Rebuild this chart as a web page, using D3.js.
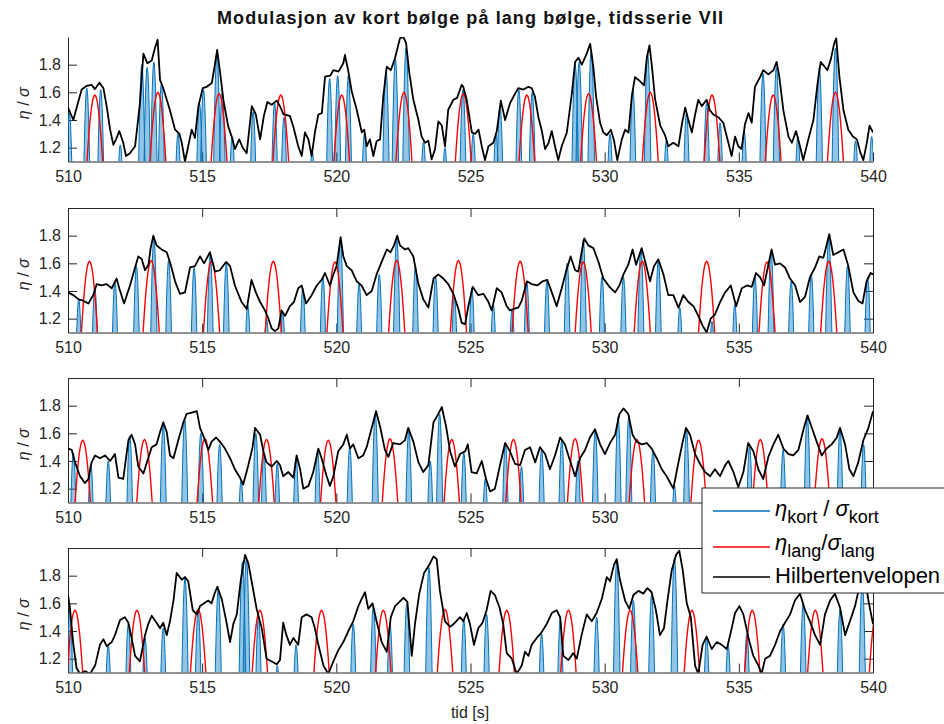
<!DOCTYPE html>
<html>
<head>
<meta charset="utf-8">
<script src="https://cdn.jsdelivr.net/npm/d3@7"></script>
<style>
  body { margin: 0; background: #fff; }
  svg { display: block; }
  text { font-family: "Liberation Sans", Arial, Helvetica, sans-serif; }
</style>
</head>
<body>
<svg id="chart" width="944" height="724"></svg>
<script>
// ---- axes ----
const xTicks = [510, 515, 520, 525, 530, 535, 540];
const yTicks = [1.2, 1.4, 1.6, 1.8];
const xDomain = [510, 540];
const yDomain = [1.1, 2.0];

// ---- Hilbert envelope, vertices [t (s), eta/sigma] for each of the four series ----
const envelope1 = [[510.0,1.49],[510.2,1.40],[510.38,1.53],[510.51,1.62],[510.7,1.647],[510.88,1.654],[511.0,1.623],[511.17,1.67],[511.32,1.63],[511.44,1.50],[511.57,1.33],[511.69,1.22],[511.79,1.26],[511.91,1.32],[512.06,1.235],[512.16,1.14],[512.31,1.16],[512.5,1.21],[512.68,1.52],[512.81,1.88],[512.96,1.81],[513.12,1.83],[513.24,1.92],[513.34,1.98],[513.43,1.69],[513.55,1.63],[513.8,1.47],[513.99,1.33],[514.15,1.30],[514.24,1.235],[514.36,1.10],[514.48,1.21],[514.61,1.33],[514.73,1.27],[514.86,1.50],[515.02,1.63],[515.17,1.64],[515.36,1.667],[515.44,1.76],[515.56,1.906],[515.67,1.74],[515.79,1.546],[515.97,1.354],[516.1,1.28],[516.22,1.19],[516.38,1.26],[516.51,1.20],[516.66,1.16],[516.85,1.50],[517.0,1.44],[517.16,1.26],[517.3,1.43],[517.43,1.53],[517.59,1.51],[517.78,1.54],[517.9,1.50],[518.03,1.44],[518.27,1.43],[518.40,1.35],[518.58,1.21],[518.71,1.14],[518.83,1.31],[518.96,1.26],[519.08,1.14],[519.21,1.32],[519.33,1.44],[519.46,1.45],[519.58,1.714],[519.77,1.72],[519.89,1.76],[520.08,1.75],[520.26,1.81],[520.32,1.87],[520.45,1.75],[520.57,1.61],[520.76,1.474],[520.95,1.31],[521.04,1.33],[521.13,1.21],[521.25,1.26],[521.38,1.14],[521.5,1.246],[521.63,1.26],[521.75,1.57],[521.88,1.786],[522.03,1.76],[522.19,1.85],[522.37,1.99],[522.5,2.0],[522.6,1.955],[522.72,1.74],[522.87,1.546],[523.06,1.40],[523.18,1.28],[523.31,1.235],[523.43,1.25],[523.55,1.115],[523.68,1.19],[523.8,1.39],[523.93,1.36],[524.05,1.21],[524.17,1.474],[524.36,1.546],[524.5,1.56],[524.67,1.654],[524.73,1.64],[524.86,1.546],[525.05,1.31],[525.17,1.30],[525.3,1.33],[525.42,1.21],[525.54,1.11],[525.67,1.21],[525.85,1.235],[525.98,1.32],[526.13,1.54],[526.29,1.40],[526.47,1.52],[526.66,1.59],[526.78,1.63],[526.97,1.62],[527.16,1.64],[527.28,1.63],[527.4,1.57],[527.53,1.42],[527.66,1.32],[527.78,1.19],[527.9,1.23],[528.03,1.32],[528.15,1.21],[528.27,1.11],[528.4,1.21],[528.59,1.31],[528.77,1.58],[528.9,1.82],[529.02,1.85],[529.15,1.80],[529.33,1.88],[529.46,1.95],[529.58,1.78],[529.68,1.57],[529.83,1.38],[529.95,1.31],[530.08,1.29],[530.23,1.33],[530.35,1.25],[530.47,1.11],[530.64,1.26],[530.76,1.33],[530.89,1.31],[531.01,1.57],[531.13,1.71],[531.32,1.68],[531.47,1.65],[531.57,1.85],[531.67,1.94],[531.76,1.79],[531.88,1.55],[532.07,1.36],[532.25,1.29],[532.37,1.21],[532.56,1.235],[532.75,1.21],[532.87,1.36],[533.0,1.49],[533.12,1.40],[533.25,1.31],[533.37,1.44],[533.49,1.546],[533.62,1.50],[533.8,1.546],[533.92,1.47],[534.05,1.44],[534.24,1.42],[534.42,1.38],[534.61,1.235],[534.73,1.14],[534.86,1.28],[534.98,1.21],[535.1,1.19],[535.23,1.37],[535.36,1.45],[535.48,1.38],[535.6,1.64],[535.79,1.71],[535.91,1.76],[536.1,1.73],[536.29,1.76],[536.41,1.82],[536.51,1.71],[536.66,1.47],[536.85,1.28],[536.98,1.235],[537.13,1.32],[537.28,1.21],[537.4,1.11],[537.59,1.26],[537.78,1.40],[537.93,1.66],[538.05,1.82],[538.18,1.79],[538.3,1.76],[538.43,1.84],[538.55,1.95],[538.63,1.99],[538.75,1.71],[538.9,1.47],[539.08,1.33],[539.25,1.28],[539.4,1.26],[539.52,1.17],[539.64,1.11],[539.77,1.235],[539.87,1.36],[540.0,1.31]];

const envelope2 = [[510.0,1.39],[510.2,1.37],[510.39,1.34],[510.57,1.33],[510.76,1.31],[510.94,1.37],[511.07,1.45],[511.25,1.44],[511.44,1.45],[511.63,1.42],[511.81,1.49],[511.91,1.42],[512.09,1.31],[512.31,1.44],[512.5,1.57],[512.62,1.65],[512.75,1.63],[512.87,1.55],[513.0,1.59],[513.08,1.71],[513.18,1.80],[513.3,1.73],[513.49,1.70],[513.68,1.68],[513.83,1.59],[513.99,1.47],[514.17,1.38],[514.36,1.39],[514.55,1.57],[514.73,1.58],[514.92,1.65],[515.07,1.60],[515.29,1.68],[515.48,1.54],[515.66,1.55],[515.89,1.61],[516.04,1.58],[516.22,1.44],[516.47,1.32],[516.66,1.27],[516.84,1.48],[517.0,1.39],[517.16,1.32],[517.34,1.26],[517.47,1.20],[517.59,1.13],[517.71,1.11],[517.84,1.13],[517.96,1.26],[518.09,1.22],[518.27,1.29],[518.42,1.32],[518.58,1.42],[518.71,1.44],[518.87,1.31],[519.08,1.37],[519.27,1.44],[519.45,1.48],[519.58,1.53],[519.76,1.44],[519.89,1.52],[520.01,1.58],[520.16,1.79],[520.26,1.65],[520.39,1.58],[520.57,1.55],[520.76,1.47],[520.94,1.44],[521.13,1.37],[521.32,1.40],[521.5,1.52],[521.69,1.61],[521.88,1.70],[522.02,1.68],[522.15,1.73],[522.27,1.80],[522.37,1.73],[522.56,1.70],[522.68,1.71],[522.87,1.65],[523.06,1.45],[523.24,1.34],[523.43,1.28],[523.62,1.49],[523.8,1.52],[523.99,1.49],[524.17,1.45],[524.36,1.38],[524.55,1.27],[524.67,1.17],[524.8,1.16],[524.92,1.29],[525.08,1.43],[525.29,1.37],[525.48,1.38],[525.67,1.32],[525.79,1.26],[525.98,1.42],[526.16,1.39],[526.35,1.29],[526.47,1.26],[526.6,1.27],[526.78,1.28],[526.91,1.33],[527.1,1.47],[527.28,1.45],[527.49,1.44],[527.69,1.47],[527.86,1.48],[528.03,1.39],[528.21,1.29],[528.4,1.42],[528.56,1.54],[528.73,1.65],[528.9,1.55],[529.02,1.54],[529.14,1.68],[529.24,1.78],[529.39,1.73],[529.58,1.71],[529.77,1.61],[529.95,1.49],[530.18,1.43],[530.39,1.39],[530.55,1.44],[530.7,1.52],[530.88,1.59],[531.04,1.70],[531.17,1.59],[531.38,1.71],[531.54,1.59],[531.69,1.47],[531.84,1.58],[532.0,1.63],[532.19,1.52],[532.37,1.37],[532.56,1.37],[532.75,1.28],[532.93,1.37],[533.12,1.32],[533.31,1.29],[533.49,1.22],[533.65,1.15],[533.8,1.10],[533.95,1.20],[534.11,1.23],[534.3,1.32],[534.49,1.39],[534.7,1.44],[534.9,1.29],[535.11,1.42],[535.3,1.44],[535.48,1.43],[535.64,1.53],[535.79,1.50],[535.94,1.44],[536.1,1.59],[536.22,1.70],[536.35,1.59],[536.54,1.60],[536.72,1.57],[536.91,1.49],[537.1,1.44],[537.28,1.32],[537.47,1.36],[537.65,1.50],[537.84,1.57],[538.0,1.65],[538.15,1.64],[538.27,1.73],[538.37,1.81],[538.52,1.66],[538.71,1.68],[538.9,1.70],[539.08,1.58],[539.27,1.39],[539.45,1.33],[539.61,1.31],[539.76,1.47],[539.91,1.53],[540.0,1.52]];

const envelope3 = [[510.0,1.49],[510.14,1.48],[510.26,1.39],[510.45,1.29],[510.63,1.24],[510.76,1.27],[510.88,1.39],[511.01,1.44],[511.19,1.42],[511.38,1.44],[511.57,1.40],[511.75,1.45],[511.88,1.28],[512.06,1.27],[512.25,1.55],[512.37,1.59],[512.5,1.52],[512.62,1.36],[512.81,1.31],[512.99,1.42],[513.12,1.50],[513.3,1.52],[513.43,1.61],[513.55,1.68],[513.68,1.61],[513.8,1.44],[513.93,1.42],[514.11,1.55],[514.3,1.68],[514.42,1.74],[514.61,1.75],[514.8,1.76],[514.92,1.64],[515.07,1.57],[515.23,1.48],[515.35,1.54],[515.52,1.57],[515.66,1.54],[515.85,1.49],[516.04,1.42],[516.22,1.34],[516.41,1.28],[516.53,1.23],[516.72,1.37],[516.88,1.50],[516.97,1.64],[517.16,1.59],[517.28,1.47],[517.4,1.39],[517.59,1.36],[517.78,1.40],[517.9,1.37],[518.02,1.29],[518.21,1.32],[518.4,1.28],[518.52,1.44],[518.65,1.34],[518.77,1.20],[518.96,1.22],[519.14,1.32],[519.33,1.49],[519.45,1.42],[519.64,1.29],[519.76,1.22],[519.89,1.29],[520.07,1.47],[520.26,1.52],[520.39,1.59],[520.51,1.49],[520.63,1.52],[520.82,1.42],[521.0,1.44],[521.13,1.50],[521.32,1.64],[521.48,1.76],[521.63,1.65],[521.81,1.48],[521.94,1.43],[522.12,1.53],[522.37,1.52],[522.56,1.55],[522.68,1.64],[522.87,1.54],[523.06,1.39],[523.24,1.32],[523.43,1.37],[523.62,1.68],[523.8,1.74],[523.93,1.79],[524.09,1.65],[524.24,1.47],[524.42,1.36],[524.61,1.45],[524.8,1.47],[524.9,1.52],[525.04,1.32],[525.23,1.31],[525.42,1.40],[525.58,1.27],[525.73,1.18],[525.91,1.20],[526.1,1.37],[526.29,1.53],[526.47,1.47],[526.66,1.38],[526.85,1.37],[527.03,1.48],[527.22,1.50],[527.41,1.39],[527.59,1.50],[527.78,1.45],[527.96,1.34],[528.15,1.44],[528.34,1.57],[528.52,1.52],[528.68,1.42],[528.9,1.29],[529.08,1.42],[529.27,1.48],[529.45,1.57],[529.64,1.63],[529.83,1.52],[530.01,1.45],[530.2,1.53],[530.39,1.59],[530.55,1.74],[530.7,1.78],[530.88,1.74],[531.04,1.59],[531.19,1.54],[531.38,1.52],[531.57,1.53],[531.75,1.49],[531.94,1.42],[532.13,1.34],[532.31,1.29],[532.56,1.20],[532.75,1.39],[532.91,1.54],[533.03,1.64],[533.18,1.59],[533.37,1.45],[533.55,1.38],[533.74,1.32],[533.93,1.29],[534.11,1.34],[534.3,1.29],[534.49,1.37],[534.61,1.40],[534.8,1.32],[534.98,1.21],[535.17,1.32],[535.35,1.53],[535.54,1.47],[535.73,1.34],[535.91,1.27],[536.1,1.43],[536.29,1.52],[536.47,1.59],[536.66,1.49],[536.85,1.45],[537.03,1.44],[537.22,1.48],[537.41,1.63],[537.56,1.73],[537.72,1.64],[537.9,1.54],[538.09,1.44],[538.27,1.49],[538.46,1.52],[538.65,1.57],[538.77,1.64],[538.96,1.52],[539.12,1.34],[539.27,1.29],[539.45,1.39],[539.64,1.55],[539.83,1.64],[540.0,1.76]];

const envelope4 = [[510.0,1.66],[510.07,1.57],[510.2,1.30],[510.32,1.13],[510.45,1.09],[510.63,1.11],[510.82,1.09],[511.01,1.15],[511.19,1.30],[511.32,1.34],[511.44,1.29],[511.63,1.32],[511.75,1.37],[511.94,1.48],[512.12,1.50],[512.25,1.46],[512.37,1.35],[512.5,1.22],[512.68,1.18],[512.87,1.37],[512.99,1.45],[513.12,1.51],[513.3,1.46],[513.43,1.42],[513.55,1.46],[513.68,1.37],[513.8,1.47],[513.93,1.62],[514.05,1.82],[514.24,1.77],[514.36,1.79],[514.48,1.76],[514.65,1.55],[514.8,1.52],[514.92,1.58],[515.07,1.60],[515.23,1.62],[515.35,1.60],[515.48,1.68],[515.57,1.72],[515.73,1.63],[515.89,1.48],[516.04,1.32],[516.16,1.45],[516.29,1.52],[516.44,1.77],[516.6,1.95],[516.72,1.89],[516.88,1.72],[517.03,1.56],[517.22,1.42],[517.4,1.20],[517.59,1.18],[517.78,1.16],[517.9,1.19],[518.02,1.46],[518.14,1.37],[518.27,1.30],[518.4,1.35],[518.58,1.30],[518.71,1.50],[518.89,1.52],[519.08,1.50],[519.2,1.42],[519.33,1.30],[519.52,1.15],[519.7,1.09],[519.89,1.18],[520.07,1.26],[520.26,1.32],[520.45,1.40],[520.63,1.47],[520.82,1.58],[520.94,1.63],[521.07,1.68],[521.19,1.56],[521.35,1.60],[521.5,1.47],[521.69,1.32],[521.88,1.25],[522.03,1.50],[522.19,1.58],[522.35,1.61],[522.5,1.64],[522.65,1.61],[522.81,1.22],[522.93,1.45],[523.09,1.67],[523.27,1.82],[523.47,1.88],[523.62,1.94],[523.74,1.92],[523.86,1.69],[524.05,1.47],[524.24,1.43],[524.42,1.46],[524.61,1.50],[524.73,1.47],[524.86,1.53],[524.98,1.45],[525.13,1.30],[525.29,1.42],[525.45,1.46],[525.6,1.55],[525.75,1.69],[525.91,1.66],[526.08,1.57],[526.22,1.45],[526.35,1.24],[526.54,1.20],[526.72,1.09],[526.91,1.15],[527.03,1.25],[527.16,1.22],[527.28,1.30],[527.47,1.35],[527.65,1.39],[527.84,1.45],[528.03,1.53],[528.21,1.55],[528.34,1.50],[528.46,1.22],[528.65,1.19],[528.83,1.24],[528.96,1.20],[529.14,1.37],[529.33,1.52],[529.52,1.47],[529.7,1.53],[529.89,1.63],[530.08,1.79],[530.2,1.76],[530.35,1.88],[530.45,1.92],[530.57,1.77],[530.76,1.62],[530.92,1.56],[531.07,1.66],[531.26,1.69],[531.44,1.67],[531.59,1.71],[531.75,1.68],[531.91,1.55],[532.06,1.37],[532.21,1.42],[532.34,1.62],[532.5,1.84],[532.66,1.95],[532.78,1.98],[532.91,1.84],[533.06,1.60],[533.21,1.50],[533.37,1.15],[533.49,1.09],[533.65,1.30],[533.8,1.36],[533.99,1.27],[534.18,1.32],[534.36,1.30],[534.55,1.27],[534.7,1.39],[534.86,1.53],[535.02,1.58],[535.17,1.52],[535.36,1.35],[535.54,1.22],[535.73,1.15],[535.85,1.09],[535.98,1.20],[536.16,1.22],[536.35,1.30],[536.54,1.40],[536.72,1.46],[536.91,1.52],[537.09,1.62],[537.28,1.67],[537.47,1.55],[537.65,1.47],[537.84,1.37],[538.03,1.30],[538.21,1.52],[538.4,1.62],[538.58,1.67],[538.77,1.57],[538.96,1.37],[539.14,1.47],[539.33,1.58],[539.52,1.74],[539.67,1.82],[539.83,1.62],[540.0,1.45]];

// ---- short wave: crest times (s) and crest heights ----
const shortCrests1 = [[510.05,1.45],[510.7,1.63],[511.22,1.62],[511.95,1.22],[512.75,1.80],[512.95,1.78],[513.2,1.82],[513.48,1.66],[514.1,1.30],[514.9,1.52],[515.05,1.62],[515.55,1.88],[515.75,1.60],[516.12,1.28],[516.9,1.46],[517.7,1.52],[518.05,1.42],[519.1,1.18],[519.75,1.70],[520.05,1.72],[520.45,1.72],[521.05,1.30],[521.85,1.76],[522.2,1.84],[522.6,1.92],[523.25,1.24],[524.05,1.20],[524.72,1.62],[525.1,1.30],[525.95,1.30],[526.1,1.50],[526.8,1.62],[527.3,1.60],[528.9,1.80],[529.05,1.82],[529.5,1.90],[530.2,1.30],[531.05,1.62],[531.6,1.88],[532.3,1.25],[533.05,1.45],[533.8,1.52],[534.3,1.38],[535.2,1.32],[535.9,1.74],[536.4,1.78],[537.2,1.28],[538.0,1.78],[538.6,1.92],[539.35,1.25],[539.95,1.28]];
const shortCrests2 = [[510.4,1.34],[511.0,1.42],[511.75,1.47],[512.55,1.58],[513.2,1.78],[513.75,1.62],[514.7,1.57],[515.3,1.66],[515.9,1.60],[516.7,1.30],[517.4,1.20],[518.0,1.24],[518.75,1.42],[519.5,1.50],[520.15,1.77],[520.85,1.45],[521.6,1.52],[522.25,1.78],[522.95,1.58],[523.7,1.50],[524.4,1.36],[525.05,1.42],[525.85,1.30],[526.55,1.27],[527.1,1.46],[527.85,1.47],[528.6,1.60],[529.2,1.77],[529.9,1.50],[530.7,1.50],[531.35,1.70],[532.0,1.62],[532.8,1.28],[534.0,1.18],[534.85,1.30],[535.6,1.50],[536.2,1.68],[536.95,1.47],[537.7,1.52],[538.35,1.78],[539.05,1.58],[539.8,1.50]];
const shortCrests3 = [[510.2,1.46],[510.85,1.38],[511.5,1.40],[512.3,1.58],[513.55,1.66],[514.35,1.70],[514.95,1.60],[515.65,1.52],[516.45,1.26],[517.0,1.60],[517.3,1.45],[517.8,1.38],[518.5,1.42],[519.3,1.47],[520.5,1.50],[521.45,1.74],[522.7,1.62],[523.5,1.40],[523.85,1.74],[524.75,1.46],[525.55,1.27],[526.3,1.52],[526.9,1.36],[527.65,1.48],[528.4,1.55],[529.0,1.40],[529.65,1.62],[530.5,1.72],[530.9,1.72],[531.8,1.48],[532.6,1.22],[533.05,1.62],[535.4,1.50],[536.65,1.48],[537.55,1.72],[538.77,1.62],[539.65,1.52]];
const shortCrests4 = [[510.07,1.55],[511.5,1.30],[512.25,1.45],[512.87,1.35],[513.55,1.42],[514.36,1.78],[514.85,1.55],[515.6,1.70],[516.5,1.90],[516.65,1.92],[517.1,1.50],[517.8,1.15],[518.5,1.30],[520.63,1.45],[521.38,1.58],[522.0,1.45],[522.63,1.60],[523.45,1.86],[524.75,1.48],[525.6,1.52],[527.65,1.38],[528.35,1.48],[529.7,1.50],[530.45,1.90],[531.07,1.62],[531.75,1.66],[532.6,1.93],[533.8,1.35],[534.6,1.30],[535.3,1.38],[536.65,1.45],[537.4,1.60],[538.77,1.55],[539.6,1.75]];

// ---- long wave: crest times (s) and crest heights ----
const longCrestTimes1 = [511.0, 513.35, 515.63, 517.93, 520.2, 522.52, 524.73, 527.1, 529.4, 531.7, 534.0, 536.28, 538.6];
const longCrestHeights1 = [1.58, 1.60, 1.59, 1.58, 1.58, 1.60, 1.59, 1.58, 1.59, 1.60, 1.58, 1.58, 1.60];
const longCrestTimes2 = [510.8, 513.1, 515.35, 517.65, 519.95, 522.25, 524.55, 526.85, 529.2, 531.4, 533.8, 536.05, 538.35];
const longCrestHeights2 = [1.615, 1.62, 1.615, 1.615, 1.61, 1.62, 1.62, 1.615, 1.61, 1.615, 1.615, 1.61, 1.615];
const longCrestTimes3 = [510.55, 512.85, 515.1, 517.4, 519.7, 522.0, 524.3, 526.6, 528.9, 531.2, 533.5, 535.8, 538.1];
const longCrestHeights3 = [1.55, 1.555, 1.56, 1.555, 1.55, 1.56, 1.555, 1.555, 1.56, 1.555, 1.55, 1.555, 1.56];
const longCrestTimes4 = [510.26, 512.57, 514.85, 517.15, 519.45, 521.75, 524.05, 526.35, 528.65, 530.95, 533.25, 535.5, 537.85, 540.15];
const longCrestHeights4 = [1.55, 1.55, 1.555, 1.55, 1.55, 1.55, 1.555, 1.55, 1.55, 1.55, 1.55, 1.55, 1.55, 1.55];

// wave periods (s) that set the width of each crest
const longPeriod = 2.3;
const shortPeriod = 0.8;

const seriesList = [
  { env: envelope1, shortC: shortCrests1, longT: longCrestTimes1, longH: longCrestHeights1, box: false },
  { env: envelope2, shortC: shortCrests2, longT: longCrestTimes2, longH: longCrestHeights2, box: true },
  { env: envelope3, shortC: shortCrests3, longT: longCrestTimes3, longH: longCrestHeights3, box: true },
  { env: envelope4, shortC: shortCrests4, longT: longCrestTimes4, longH: longCrestHeights4, box: true }
];

// ---- layout ----
const W = 944, H = 724;
const plotLeft = 68, plotRight = 873;
const panelTops = [37, 208, 378, 548];
const panelH = 124.5;
const tickLen = 9;
const axisColor = "#262626";
const blue = "#0072BD", red = "#FF0000";
const legendBox = { x: 702, y: 488, w: 260, h: 105 };

const svg = d3.select("#chart");
svg.append("rect").attr("width", W).attr("height", H).attr("fill", "#fff");

const x = d3.scaleLinear().domain(xDomain).range([plotLeft, plotRight]);

// points of one crest of a cosine wave above the lower axis limit
function crestPoints(tc, h, period) {
  const lo = yDomain[0];
  if (h <= lo) return null;
  const phiMax = Math.acos(lo / h);
  return d3.range(0, 17).map(k => {
    const phi = -phiMax + (2 * phiMax * k) / 16;
    return [tc + (phi / (2 * Math.PI)) * period, h * Math.cos(phi)];
  });
}

function styleAxis(g) {
  g.selectAll(".domain").attr("stroke", axisColor).attr("stroke-width", 1);
  g.selectAll(".tick line").attr("stroke", axisColor).attr("stroke-width", 1);
  g.selectAll(".tick text").attr("fill", axisColor).attr("font-size", 16)
    .attr("font-family", '"Liberation Sans", Arial, sans-serif');
}

seriesList.forEach((s, i) => {
  const top = panelTops[i];
  const bottom = top + panelH;
  const y = d3.scaleLinear().domain(yDomain).range([bottom, top]);
  const g = svg.append("g");

  // tick labels that fall under the legend box are not shown
  const underLegend = v => bottom + 10 > legendBox.y && bottom + 10 < legendBox.y + legendBox.h
    && x(v) + 15 > legendBox.x;

  // axes (drawn underneath the data)
  g.append("g").attr("transform", `translate(0,${bottom})`)
    .call(d3.axisBottom(x).tickValues(xTicks).tickSizeInner(-tickLen).tickSizeOuter(0)
      .tickPadding(9).tickFormat(v => underLegend(v) ? "" : d3.format("d")(v)))
    .call(styleAxis);
  g.append("g").attr("transform", `translate(${plotLeft},0)`)
    .call(d3.axisLeft(y).tickValues(yTicks).tickSizeInner(-tickLen).tickSizeOuter(0)
      .tickPadding(7).tickFormat(d3.format(".1f")))
    .call(styleAxis);
  if (s.box) {
    g.append("g").attr("transform", `translate(0,${top})`)
      .call(d3.axisTop(x).tickValues(xTicks).tickSizeInner(-tickLen).tickSizeOuter(0).tickFormat(""))
      .call(styleAxis);
    g.append("g").attr("transform", `translate(${plotRight},0)`)
      .call(d3.axisRight(y).tickValues(yTicks).tickSizeInner(-tickLen).tickSizeOuter(0).tickFormat(""))
      .call(styleAxis);
  }

  // y label
  const yl = g.append("text")
    .attr("transform", `translate(29,${top + panelH / 2 + 4}) rotate(-90)`)
    .attr("text-anchor", "middle").attr("fill", axisColor).attr("font-size", 16);
  yl.append("tspan").attr("font-style", "italic").text("η");
  yl.append("tspan").text(" / ");
  yl.append("tspan").attr("font-style", "italic").text("σ");

  // data, clipped to the plot box
  const clipId = "clip" + i;
  svg.append("clipPath").attr("id", clipId).append("rect")
    .attr("x", plotLeft).attr("y", top).attr("width", plotRight - plotLeft).attr("height", panelH);
  const data = g.append("g").attr("clip-path", `url(#${clipId})`);

  const line = d3.line().x(d => x(d[0])).y(d => y(d[1]));
  const area = d3.area().x(d => x(d[0])).y0(y(yDomain[0])).y1(d => y(d[1]));

  // short wave crests
  s.shortC.forEach(([tc, h]) => {
    const pts = crestPoints(tc, h, shortPeriod);
    if (!pts) return;
    data.append("path").attr("d", area(pts)).attr("fill", blue).attr("fill-opacity", 0.42);
    data.append("path").attr("d", line(pts)).attr("fill", "none")
      .attr("stroke", blue).attr("stroke-width", 1);
  });

  // long wave crests
  s.longT.forEach((tc, k) => {
    const pts = crestPoints(tc, s.longH[k], longPeriod);
    if (!pts) return;
    data.append("path").attr("d", line(pts)).attr("fill", "none")
      .attr("stroke", red).attr("stroke-width", 1.4);
  });

  // Hilbert envelope
  data.append("path").attr("d", line(s.env)).attr("fill", "none")
    .attr("stroke", "#000").attr("stroke-width", 1.8).attr("stroke-linejoin", "round");
});

// title and x label
svg.append("text").attr("x", 470).attr("y", 24).attr("text-anchor", "middle")
  .attr("font-size", 18).attr("font-weight", "bold").attr("fill", "#111")
  .attr("textLength", 506).attr("lengthAdjust", "spacing")
  .text("Modulasjon av kort bølge på lang bølge, tidsserie VII");
svg.append("text").attr("x", 470).attr("y", 718).attr("text-anchor", "middle")
  .attr("font-size", 16).attr("fill", axisColor).text("tid [s]");

// legend
const legend = svg.append("g");
legend.append("rect").attr("x", legendBox.x).attr("y", legendBox.y)
  .attr("width", legendBox.w).attr("height", legendBox.h)
  .attr("fill", "#fff").attr("stroke", axisColor).attr("stroke-width", 1);
const legendRows = [
  { color: blue, ly: 511, ty: 516, parts: [["η", "i"], ["kort", "s"], [" / ", "n"], ["σ", "i"], ["kort", "s"]] },
  { color: red, ly: 547, ty: 550, parts: [["η", "i"], ["lang", "s"], ["/", "n"], ["σ", "i"], ["lang", "s"]] },
  { color: "#000", ly: 577, ty: 583, parts: [["Hilbertenvelopen", "n"]] }
];
legendRows.forEach(r => {
  legend.append("line").attr("x1", 713).attr("x2", 770).attr("y1", r.ly).attr("y2", r.ly)
    .attr("stroke", r.color).attr("stroke-width", 1.3);
  const t = legend.append("text").attr("x", 775).attr("y", r.ty).attr("fill", "#000").attr("font-size", 22);
  let shifted = false;
  r.parts.forEach(([str, kind]) => {
    const sp = t.append("tspan").text(str);
    if (kind === "i") sp.attr("font-style", "italic");
    if (kind === "s") { sp.attr("font-size", 18).attr("dy", shifted ? 0 : 7); shifted = true; }
    else if (shifted) { sp.attr("dy", -7); shifted = false; }
  });
});
</script>
</body>
</html>
